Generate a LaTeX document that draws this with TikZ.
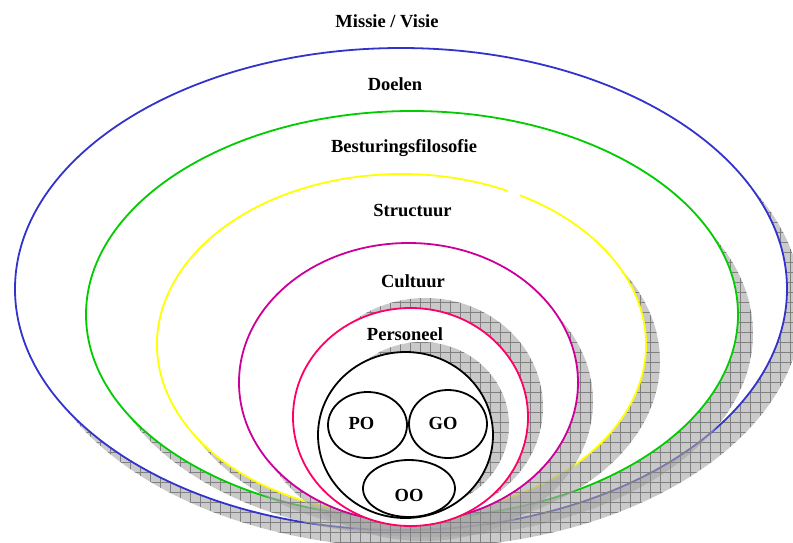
\documentclass[tikz,border=0pt]{standalone}
\usepackage{fontspec}
\setmainfont{Liberation Serif}
\usetikzlibrary{patterns.meta}

\definecolor{missieblauw}{RGB}{51,51,204}
\definecolor{doelgroen}{RGB}{0,204,0}
\definecolor{structuurgeel}{RGB}{255,255,0}
\definecolor{cultuurpaars}{RGB}{204,0,153}
\definecolor{personeelrood}{RGB}{255,0,102}

\tikzset{
  schaduw/.style={fill=black!35, fill opacity=.6,
    postaction={fill opacity=.5, pattern={Hatch[distance=10pt, line width=.7pt]}, pattern color=black!50}},
  ring/.style={line width=1.8pt, fill=white},
  tekst/.style={font=\fontsize{18.5}{20}\selectfont\bfseries, inner sep=0pt, anchor=base}
}

\begin{document}
\begin{tikzpicture}[x=1pt, y=-1pt]
    \useasboundingbox (0,0) rectangle (793,542);
    % rings from outside to inside, each with its shadow underneath
    \foreach \kleur/\cx/\cy/\rx/\ry/\dx/\dy/\van/\tot in {
        missieblauw/401/289/386/241/15/18/0/360,
        doelgroen/412/314.5/326/203.5/15/19/0/360,
        structuurgeel/401.5/344.5/244.5/170.5/14/17/-61/295.8,
        cultuurpaars/408.5/382.5/169.5/139.5/15/19/0/360,
        personeelrood/410.5/417/117.5/109/15/-10/0/360,
        black/405.5/435/87.5/83/16/-10/0/360} {
        \path[schaduw] ({\cx+\dx}, {\cy+(\dy)}) ellipse [x radius=\rx, y radius=\ry];
        \draw[ring, draw=\kleur] ({\cx+\rx*cos(\van)}, {\cy+\ry*sin(\van)})
            arc [start angle=\van, end angle=\tot, x radius=\rx, y radius=\ry];
    }
    % the three parts inside
    \draw[ring, draw=black] (367.5,425) ellipse [x radius=39.5, y radius=33];
    \draw[ring, draw=black] (448,424) ellipse [x radius=39, y radius=34];
    \draw[ring, draw=black] (409,488.5) ellipse [x radius=46, y radius=28.5];

    \node[tekst] (missie) at (387,27.5) {Missie / Visie};
    \node[tekst] (doelen) at (395,90.5) {Doelen};
    \node[tekst] (besturing) at (404,152.7) {Besturingsfilosofie};
    \node[tekst] (structuur) at (412.5,216) {Structuur};
    \node[tekst] (cultuur) at (413,287) {Cultuur};
    \node[tekst] (personeel) at (405,340) {Personeel};
    \node[tekst] (po) at (361.5,429) {PO};
    \node[tekst] (go) at (443,429) {GO};
    \node[tekst] (oo) at (409,501.7) {OO};
\end{tikzpicture}
\end{document}
